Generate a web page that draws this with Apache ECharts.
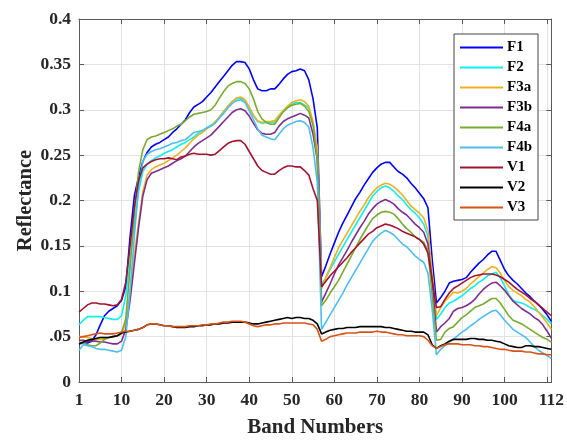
<!DOCTYPE html>
<html>
<head>
<meta charset="utf-8">
<script src="https://cdn.jsdelivr.net/npm/echarts@6/dist/echarts.min.js"></script>
<style>
html,body{margin:0;padding:0;background:#fff;}
#chart{width:567px;height:443px;}
</style>
</head>
<body>
<div id="chart"></div>
<script>
const seriesNames = ['F1','F2','F3a','F3b','F4a','F4b','V1','V2','V3'];
const seriesColors = ['#0000FF','#11EEEE','#EDB120','#7E2F8E','#77AC30','#4DBEEE','#A2142F','#000000','#D95319'];
const xTickValues = [0,10,20,30,40,50,60,70,80,90,100,111];
const xTickLabels = ['1','10','20','30','40','50','60','70','80','90','100','112'];
const yTickLabels = ['0','.05','0.1','0.15','0.2','0.25','0.3','0.35','0.4'];

const F1 = [
.042,.043,.043,.045,.052,.063,.073,.078,.081,.084,
.090,.105,.160,.205,.226,.243,.253,.259,.262,.264,
.267,.270,.275,.279,.284,.289,.297,.303,.306,.309,
.314,.319,.325,.331,.337,.343,.349,.353,.353,.352,
.345,.333,.323,.321,.321,.323,.323,.328,.334,.339,
.342,.343,.345,.343,.333,.312,.280,.116,.128,.141,
.153,.165,.175,.184,.193,.202,.209,.217,.224,.231,
.236,.240,.242,.242,.237,.232,.229,.225,.219,.214,
.208,.202,.192,.135,.087,.093,.100,.109,.111,.112,
.113,.115,.121,.126,.131,.135,.140,.144,.144,.134,
.124,.117,.112,.108,.103,.098,.094,.089,.085,.080,
.074,.067];
const F2 = [
.063,.068,.072,.072,.072,.072,.071,.070,.069,.069,
.073,.095,.135,.172,.210,.232,.240,.244,.247,.249,
.252,.254,.256,.259,.262,.264,.267,.270,.274,.277,
.280,.283,.286,.292,.298,.304,.309,.312,.313,.310,
.302,.293,.287,.285,.286,.286,.286,.292,.298,.303,
.306,.308,.308,.305,.302,.284,.255,.107,.115,.124,
.132,.141,.149,.157,.165,.173,.181,.189,.197,.205,
.210,.214,.216,.214,.210,.205,.201,.195,.190,.186,
.181,.174,.160,.115,.069,.075,.082,.087,.089,.092,
.095,.099,.103,.106,.110,.113,.117,.119,.121,.115,
.106,.096,.090,.088,.087,.085,.082,.080,.077,.073,
.069,.064];
const F3a = [
.050,.050,.049,.048,.047,.047,.048,.049,.050,.051,
.053,.065,.100,.140,.175,.210,.228,.234,.237,.239,
.241,.244,.247,.250,.254,.258,.263,.268,.272,.275,
.279,.282,.287,.292,.298,.304,.309,.313,.314,.311,
.303,.294,.288,.286,.287,.287,.288,.294,.299,.304,
.308,.310,.311,.309,.304,.287,.258,.103,.115,.126,
.137,.148,.156,.164,.172,.180,.188,.195,.203,.209,
.214,.217,.219,.218,.215,.211,.206,.200,.194,.190,
.186,.181,.167,.120,.073,.082,.089,.094,.099,.098,
.100,.103,.108,.112,.116,.120,.124,.127,.126,.120,
.112,.105,.101,.098,.095,.091,.088,.083,.077,.071,
.065,.058];
const F3b = [
.046,.046,.045,.045,.045,.044,.044,.043,.042,.042,
.045,.058,.090,.130,.170,.205,.223,.230,.232,.234,
.236,.238,.241,.244,.246,.249,.254,.259,.263,.266,
.269,.272,.277,.282,.287,.292,.297,.300,.301,.299,
.293,.285,.278,.274,.273,.273,.275,.282,.287,.290,
.292,.294,.296,.294,.291,.273,.245,.088,.098,.108,
.119,.129,.137,.145,.154,.162,.170,.177,.185,.191,
.196,.199,.201,.199,.196,.191,.187,.184,.179,.174,
.170,.165,.152,.110,.055,.061,.065,.070,.078,.081,
.082,.084,.087,.091,.097,.102,.106,.109,.110,.106,
.101,.095,.089,.085,.081,.078,.075,.071,.068,.063,
.056,.048];
const F4a = [
.044,.043,.041,.040,.040,.043,.047,.049,.050,.051,
.054,.070,.125,.185,.232,.256,.267,.270,.271,.273,
.275,.277,.279,.282,.284,.288,.292,.295,.296,.297,
.298,.300,.305,.313,.320,.326,.329,.331,.331,.329,
.323,.312,.298,.290,.286,.284,.284,.291,.298,.302,
.305,.306,.307,.304,.298,.283,.245,.084,.090,.098,
.105,.112,.121,.130,.139,.148,.157,.165,.173,.180,
.184,.187,.188,.187,.185,.180,.174,.169,.165,.160,
.157,.154,.145,.095,.046,.047,.055,.059,.061,.066,
.071,.074,.078,.082,.084,.086,.089,.092,.092,.087,
.080,.073,.068,.066,.064,.061,.058,.055,.052,.049,
.047,.044];
const F4b = [
.035,.041,.040,.039,.037,.036,.036,.035,.034,.033,
.035,.050,.100,.160,.215,.243,.251,.254,.256,.257,
.259,.261,.263,.264,.266,.267,.271,.275,.276,.277,
.280,.282,.285,.291,.296,.302,.307,.310,.311,.308,
.299,.289,.279,.272,.270,.268,.267,.273,.279,.283,
.285,.287,.288,.286,.281,.258,.220,.058,.066,.074,
.082,.090,.098,.107,.115,.123,.131,.139,.147,.155,
.160,.164,.167,.165,.162,.157,.152,.149,.144,.139,
.135,.132,.120,.080,.030,.036,.040,.044,.047,.051,
.055,.058,.062,.065,.069,.072,.075,.078,.079,.074,
.068,.063,.058,.055,.052,.049,.044,.039,.035,.032,
.029,.026];
const V1 = [
.077,.081,.085,.087,.087,.086,.086,.085,.084,.085,
.091,.110,.150,.193,.222,.236,.240,.243,.245,.246,
.246,.247,.246,.245,.248,.249,.251,.252,.251,.251,
.251,.250,.251,.255,.259,.263,.265,.266,.266,.262,
.254,.246,.238,.233,.231,.229,.229,.233,.236,.238,
.238,.237,.237,.233,.228,.213,.200,.105,.111,.117,
.122,.127,.132,.137,.143,.148,.153,.158,.163,.166,
.170,.172,.174,.173,.171,.169,.166,.164,.162,.160,
.157,.152,.142,.112,.082,.083,.091,.098,.103,.106,
.109,.112,.115,.117,.118,.119,.119,.119,.118,.116,
.113,.110,.106,.102,.099,.096,.092,.089,.085,.081,
.077,.073];
const V2 = [
.042,.044,.046,.047,.048,.049,.049,.049,.050,.051,
.054,.055,.056,.057,.058,.060,.063,.064,.064,.063,
.062,.062,.061,.060,.060,.060,.061,.061,.062,.062,
.063,.063,.064,.064,.065,.065,.066,.066,.066,.066,
.065,.064,.064,.065,.066,.067,.068,.069,.070,.071,
.070,.071,.071,.070,.070,.068,.064,.053,.055,.057,
.058,.059,.059,.060,.060,.060,.061,.061,.061,.061,
.061,.061,.060,.060,.059,.058,.057,.056,.056,.055,
.055,.055,.052,.041,.037,.040,.042,.045,.047,.047,
.047,.047,.048,.048,.047,.047,.046,.046,.045,.044,
.042,.040,.039,.038,.038,.040,.040,.039,.039,.038,
.037,.036];
const V3 = [
.049,.050,.051,.052,.053,.054,.053,.053,.053,.054,
.055,.056,.056,.057,.058,.060,.063,.064,.064,.063,
.062,.062,.061,.061,.061,.061,.062,.062,.062,.063,
.063,.064,.064,.065,.066,.066,.067,.067,.067,.066,
.064,.062,.061,.062,.063,.063,.064,.064,.065,.065,
.065,.065,.065,.065,.064,.063,.058,.045,.047,.050,
.051,.052,.053,.054,.054,.054,.055,.055,.055,.055,
.056,.055,.055,.054,.053,.052,.052,.051,.051,.051,
.051,.050,.046,.040,.037,.039,.041,.042,.042,.042,
.041,.041,.041,.040,.040,.039,.039,.038,.037,.036,
.036,.035,.034,.034,.034,.033,.033,.032,.031,.031,
.030,.030];

const seriesValues = [F1,F2,F3a,F3b,F4a,F4b,V1,V2,V3];
const FONT = '"Liberation Serif","Times New Roman",serif';
const AXIS_COLOR = '#5a5a5a';
const TEXT_COLOR = '#262626';

const chart = echarts.init(document.getElementById('chart'), null, {renderer:'canvas'});

const baseX = {
  type:'value', min:0, max:111, interval:10,
  axisLine:{show:true, onZero:false, lineStyle:{color:AXIS_COLOR, width:1}},
  axisTick:{show:true, inside:true, length:5, lineStyle:{color:AXIS_COLOR}},
};
const baseY = {
  type:'value', min:0, max:0.4, interval:0.05,
  axisLine:{show:true, onZero:false, lineStyle:{color:AXIS_COLOR, width:1}},
  axisTick:{show:true, inside:true, length:5, lineStyle:{color:AXIS_COLOR}},
};

const option = {
  animation:false,
  backgroundColor:'#ffffff',
  grid:{left:79, right:14, top:19, bottom:52, containLabel:false},
  xAxis:[
    Object.assign({}, baseX, {
      position:'bottom',
      name:'Band Numbers', nameLocation:'middle', nameGap:35, nameMoveOverlap:false,
      nameTextStyle:{fontFamily:FONT, fontWeight:'bold', fontSize:21, color:TEXT_COLOR},
      axisLabel:{show:true, customValues:xTickValues, margin:9,
        fontFamily:FONT, fontWeight:'bold', fontSize:17.5, color:TEXT_COLOR,
        formatter:(v)=>{const k=xTickValues.indexOf(Math.round(v)); return k>=0?xTickLabels[k]:'';}},
      splitLine:{show:true, lineStyle:{color:'#e3e3e3', width:1}}
    }),
    Object.assign({}, baseX, {
      position:'top', axisLabel:{show:false}, splitLine:{show:false}
    })
  ],
  yAxis:[
    Object.assign({}, baseY, {
      position:'left',
      name:'Reflectance', nameLocation:'middle', nameGap:43, nameRotate:90, nameMoveOverlap:false,
      nameTextStyle:{fontFamily:FONT, fontWeight:'bold', fontSize:20.5, color:TEXT_COLOR},
      axisLabel:{show:true, margin:8,
        fontFamily:FONT, fontWeight:'bold', fontSize:17.5, color:TEXT_COLOR,
        formatter:(v)=>{const k=Math.round(v/0.05); return yTickLabels[k]!==undefined?yTickLabels[k]:'';}},
      splitLine:{show:true, lineStyle:{color:'#e3e3e3', width:1}}
    }),
    Object.assign({}, baseY, {
      position:'right', axisLabel:{show:false}, splitLine:{show:false}
    })
  ],
  legend:{
    orient:'vertical', left:454, top:34,
    padding:[6,6,5,5],
    itemWidth:43, itemHeight:14, itemGap:5,
    itemStyle:{opacity:0},
    backgroundColor:'#ffffff', borderColor:'#444', borderWidth:1, borderRadius:0,
    textStyle:{fontFamily:FONT, fontWeight:'bold', fontSize:15, lineHeight:14, color:'#000', padding:[0,0,0,-1]},
    data:seriesNames
  },
  series: seriesNames.map((name,si)=>({
    name:name, type:'line', xAxisIndex:0, yAxisIndex:0,
    symbol:'none', showSymbol:false, smooth:false,
    color:seriesColors[si],
    lineStyle:{color:seriesColors[si], width:1.6},
    data: seriesValues[si].map((v,i)=>[i, v])
  }))
};
chart.setOption(option);
</script>
</body>
</html>
